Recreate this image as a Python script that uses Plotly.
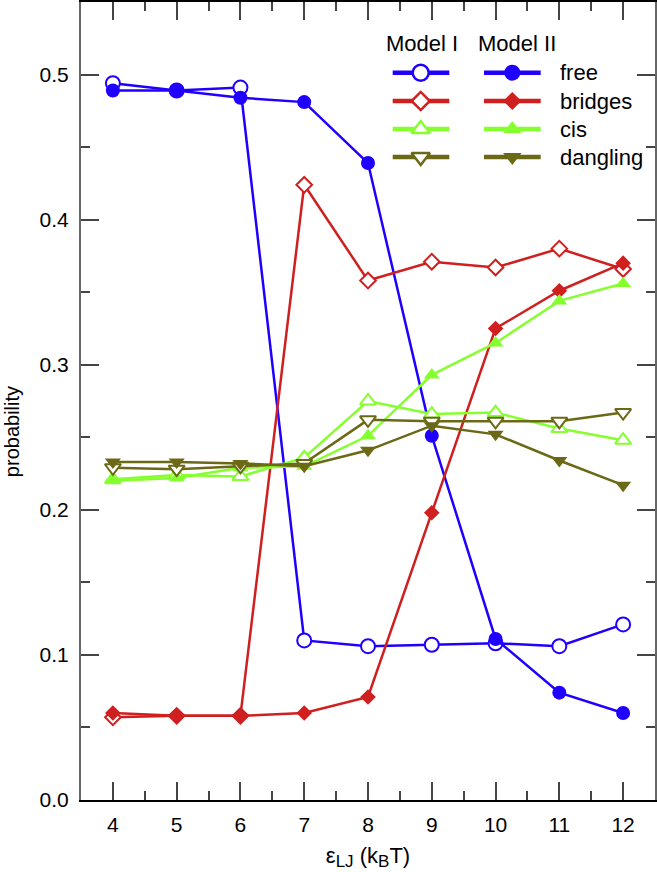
import plotly.graph_objects as go

eps = [4, 5, 6, 7, 8, 9, 10, 11, 12]

free_I = [0.494, 0.489, 0.491, 0.110, 0.106, 0.107, 0.108, 0.106, 0.121]
free_II = [0.489, 0.489, 0.484, 0.481, 0.439, 0.251, 0.111, 0.074, 0.060]
bridges_I = [0.057, 0.058, 0.058, 0.424, 0.358, 0.371, 0.367, 0.380, 0.366]
bridges_II = [0.060, 0.058, 0.058, 0.060, 0.071, 0.198, 0.325, 0.351, 0.370]
cis_I = [0.221, 0.224, 0.223, 0.236, 0.275, 0.266, 0.267, 0.256, 0.248]
cis_II = [0.220, 0.222, 0.229, 0.230, 0.251, 0.293, 0.315, 0.344, 0.356]
dangling_I = [0.229, 0.228, 0.230, 0.232, 0.262, 0.261, 0.261, 0.261, 0.267]
dangling_II = [0.233, 0.233, 0.232, 0.230, 0.241, 0.258, 0.252, 0.234, 0.217]

names = ["free", "bridges", "cis", "dangling"]
colors = ["#1f00ff", "#cf1f1f", "#86ff2e", "#6b6915"]
sym_fill = ["circle", "diamond", "triangle-up", "triangle-down"]
msize = [14, 12, 14, 14]
series_I = [free_I, bridges_I, cis_I, dangling_I]
series_II = [free_II, bridges_II, cis_II, dangling_II]

FONT = "Liberation Sans, Arial, sans-serif"

fig = go.Figure()

for i in range(4):
    fig.add_trace(go.Scatter(
        x=eps, y=series_I[i], mode="lines+markers", showlegend=False,
        line=dict(color=colors[i], width=2.5),
        marker=dict(symbol=sym_fill[i], size=msize[i], color="white",
                    line=dict(color=colors[i], width=2)),
    ))
    fig.add_trace(go.Scatter(
        x=eps, y=series_II[i], mode="lines+markers", showlegend=False,
        line=dict(color=colors[i], width=2.5),
        marker=dict(symbol=sym_fill[i], size=msize[i], color=colors[i],
                    line=dict(color=colors[i], width=0)),
    ))

# custom two-column legend drawn on an overlay axis in pixel units
leg_rows = [72.7, 101, 129, 157]
colI = (392.7, 420.7, 449.3)
colII = (484, 512.3, 540.7)
lsize = [16, 14, 16, 16]
for i in range(4):
    yy = leg_rows[i]
    for col, filled in ((colI, False), (colII, True)):
        fig.add_trace(go.Scatter(
            x=[col[0], col[2]], y=[yy, yy], mode="lines", showlegend=False,
            line=dict(color=colors[i], width=4.5), xaxis="x2", yaxis="y2",
            hoverinfo="skip"))
        fig.add_trace(go.Scatter(
            x=[col[1]], y=[yy], mode="markers", showlegend=False,
            marker=dict(symbol=sym_fill[i], size=lsize[i],
                        color=colors[i] if filled else "white",
                        line=dict(color=colors[i], width=0 if filled else 2.5)),
            xaxis="x2", yaxis="y2", hoverinfo="skip"))
    fig.add_annotation(x=558, y=yy, xref="x2", yref="y2", text=names[i],
                       showarrow=False, xanchor="left", yanchor="middle",
                       font=dict(family=FONT, size=22, color="black"))
fig.add_annotation(x=421.7, y=43, xref="x2", yref="y2", text="Model I",
                   showarrow=False, xanchor="center", yanchor="middle",
                   font=dict(family=FONT, size=22, color="black"))
fig.add_annotation(x=516.7, y=43, xref="x2", yref="y2", text="Model II",
                   showarrow=False, xanchor="center", yanchor="middle",
                   font=dict(family=FONT, size=22, color="black"))

# y-axis title as a rotated annotation (positioned like the reference)
fig.add_annotation(x=-0.1202, y=0.461, xref="paper", yref="paper",
                   text="probability", textangle=-90, showarrow=False,
                   xanchor="center", yanchor="middle",
                   font=dict(family=FONT, size=20, color="black"))

SUB = "<sub><span style='font-size:17px'>{}</span></sub>"
xtitle = "ε" + SUB.format("LJ") + " (k" + SUB.format("B") + "T)"

fig.update_layout(
    width=657, height=872,
    margin=dict(l=81, r=2, t=2, b=72, autoexpand=False),
    plot_bgcolor="white", paper_bgcolor="white",
    font=dict(family=FONT, size=21, color="black"),
    xaxis=dict(
        range=[3.5, 12.5], tickmode="array", tickvals=eps, automargin=False,
        ticks="inside", ticklen=18, tickwidth=1.5, tickcolor="#444",
        showline=True, linecolor="black", linewidth=2, mirror="ticks",
        showgrid=False, zeroline=False,
        minor=dict(ticks="inside", ticklen=9, tickwidth=1.5, tickcolor="#444",
                   dtick=0.5, tick0=3.5, showgrid=False),
        tickfont=dict(family=FONT, size=21),
        ticklabelstandoff=5,
        title=dict(text=xtitle, standoff=12,
                   font=dict(family=FONT, size=22)),
    ),
    yaxis=dict(
        range=[0, 0.55], tickmode="linear", tick0=0, dtick=0.1, tickformat=".1f",
        automargin=False,
        ticks="inside", ticklen=18, tickwidth=1.5, tickcolor="#444",
        showline=True, linecolor="#666", linewidth=2, mirror="ticks",
        showgrid=False, zeroline=False,
        minor=dict(ticks="inside", ticklen=9, tickwidth=1.5, tickcolor="#444",
                   dtick=0.05, tick0=0, showgrid=False),
        tickfont=dict(family=FONT, size=21),
        ticklabelstandoff=6,
    ),
    xaxis2=dict(overlaying="x", range=[81, 655], visible=False, domain=[0, 1], automargin=False),
    yaxis2=dict(overlaying="y", range=[800, 2], visible=False, domain=[0, 1], automargin=False),
)

fig.write_html("out.html", config={"displayModeBar": False},
               post_script="document.body.style.margin='0';document.body.style.padding='0';")
